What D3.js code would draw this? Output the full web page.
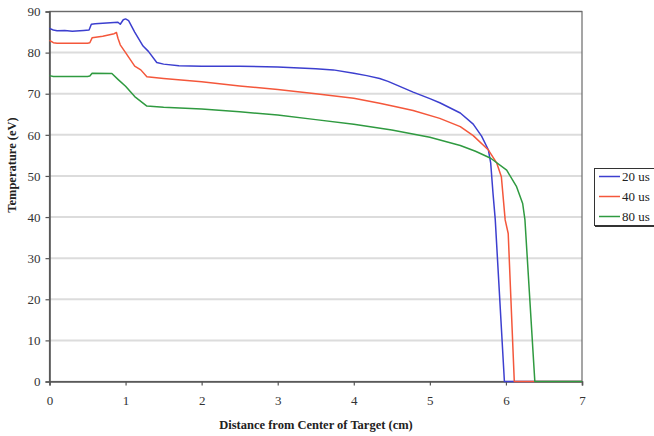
<!DOCTYPE html>
<html>
<head>
<meta charset="utf-8">
<script src="https://cdn.jsdelivr.net/npm/d3@7"></script>
<style>
  body { margin: 0; background: #fff; }
  svg text { font-family: "Liberation Serif", "Times New Roman", serif; fill: #222; }
</style>
</head>
<body>
<svg id="chart" width="654" height="436"></svg>
<script>
// series: [distance cm, temperature eV]
var us20 = [[0,85.9],[0.05,85.5],[0.1,85.3],[0.2,85.4],[0.3,85.2],[0.45,85.4],[0.52,85.5],[0.55,86.9],[0.6,87.0],
  [0.9,87.4],[0.93,86.9],[0.97,88.0],[1.0,88.2],[1.04,87.8],[1.12,85.0],[1.23,81.6],[1.3,80.3],[1.41,77.6],
  [1.5,77.2],[1.7,76.8],[2.0,76.7],[2.5,76.7],[3.0,76.5],[3.5,76.1],[3.73,75.8],[4.0,75.0],[4.17,74.4],
  [4.34,73.7],[4.45,73.0],[4.55,72.2],[4.78,70.4],[5.0,68.8],[5.13,67.8],[5.4,65.3],[5.57,62.6],[5.68,59.7],[5.77,56.3],
  [5.8,53.1],[5.83,45.8],[5.86,39.3],[5.98,0],[7,0]]
var us40 = [[0,83.0],[0.05,82.4],[0.1,82.3],[0.5,82.3],[0.53,82.4],[0.56,83.6],[0.7,84.0],[0.85,84.6],[0.88,84.9],
  [0.9,83.5],[0.93,81.9],[1.0,80.0],[1.12,76.7],[1.2,75.8],[1.28,74.1],[1.5,73.7],[2.0,72.9],[2.5,71.9],
  [3.0,71.0],[3.5,70.0],[4.0,68.9],[4.34,67.7],[4.54,66.9],[4.78,65.9],[5.13,64.0],[5.4,62.0],
  [5.57,59.8],[5.77,56.3],[5.88,53.1],[5.94,49.8],[5.99,39.3],[6.03,36.0],[6.11,0],[7,0]]
var us80 = [[0,74.4],[0.05,74.2],[0.5,74.2],[0.53,74.3],[0.56,75.0],[0.82,74.9],[0.9,73.5],[1.0,71.8],[1.12,69.3],
  [1.28,67.0],[1.5,66.7],[2.0,66.3],[2.5,65.6],[3.0,64.8],[3.5,63.7],[4.0,62.6],[4.5,61.2],[5.0,59.4],
  [5.4,57.4],[5.6,56.0],[5.8,54.3],[6.01,51.4],[6.14,47.4],[6.22,43.3],[6.25,39.3],[6.38,0],[7,0]]

var seriesNames = ['20 us','40 us','80 us']
var seriesData = [us20, us40, us80]
var seriesColors = ['#3c3fcf','#f4573b','#2f9a40']

var xTicks = [0,1,2,3,4,5,6,7]
var yTicks = [0,10,20,30,40,50,60,70,80,90]

var svg = d3.select('#chart')
var plotLeft = 49.5, plotRight = 582, plotTop = 11.5, plotBottom = 381.5

var x = d3.scaleLinear().domain([0,7]).range([plotLeft,plotRight])
var y = d3.scaleLinear().domain([0,90]).range([plotBottom,plotTop])

// gridlines
svg.append('g').selectAll('line')
  .data(yTicks.filter(function(d){return d > 0}))
  .enter().append('line')
  .attr('x1', plotLeft).attr('x2', plotRight)
  .attr('y1', function(d){return y(d)}).attr('y2', function(d){return y(d)})
  .style('stroke','#dcdcdc').style('stroke-width',2)

// plot border
svg.append('rect')
  .attr('x', plotLeft).attr('y', plotTop)
  .attr('width', plotRight-plotLeft).attr('height', plotBottom-plotTop)
  .style('fill','none').style('stroke','#6a6a6a').style('stroke-width',1.2)

var xAxis = svg.append('g')
  .attr('transform','translate(0,' + plotBottom + ')')
  .call(d3.axisBottom(x).tickValues(xTicks).tickSize(4).tickPadding(10).tickFormat(d3.format('d')))
var yAxis = svg.append('g')
  .attr('transform','translate(' + plotLeft + ',0)')
  .call(d3.axisLeft(y).tickValues(yTicks).tickSize(4).tickPadding(5).tickFormat(d3.format('d')))

;[xAxis, yAxis].forEach(function(a){
  a.attr('font-family', null).attr('font-size', null)
  a.select('.domain').style('stroke','#555').style('stroke-width',1.6)
  a.selectAll('.tick line').style('stroke','#555').style('stroke-width',1.2)
  a.selectAll('.tick text').style('font-size','13px').style('fill','#333')
})

// lines
var line = d3.line()
  .x(function(d){return x(d[0])})
  .y(function(d){return y(d[1])})

svg.append('g').selectAll('path')
  .data(seriesData)
  .enter().append('path')
  .attr('d', line)
  .style('fill','none')
  .style('stroke', function(d,i){return seriesColors[i]})
  .style('stroke-width',1.5)
  .style('stroke-linejoin','round')

// axis titles
svg.append('text')
  .attr('x', 316).attr('y', 429)
  .attr('text-anchor','middle')
  .style('font-size','12.5px').style('font-weight','bold')
  .text('Distance from Center of Target (cm)')
svg.append('text')
  .attr('transform','translate(16,165) rotate(-90)')
  .attr('text-anchor','middle')
  .style('font-size','12.5px').style('font-weight','bold')
  .text('Temperature (eV)')

// legend
var legend = svg.append('g')
legend.append('rect')
  .attr('x', 594.5).attr('y', 168.5).attr('width', 70).attr('height', 57)
  .style('fill','#fff').style('stroke','#333').style('stroke-width',1)
legend.append('line')
  .attr('x1', 595).attr('x2', 654).attr('y1', 226).attr('y2', 226)
  .style('stroke','#333').style('stroke-width',2)
var items = legend.selectAll('.item')
  .data(seriesNames)
  .enter().append('g').attr('class','item')
  .attr('transform', function(d,i){return 'translate(0,' + (176.5 + i*20) + ')'})
items.append('line')
  .attr('x1', 599).attr('x2', 620).attr('y1', 0).attr('y2', 0)
  .style('stroke', function(d,i){return seriesColors[i]}).style('stroke-width',1.5)
items.append('text')
  .attr('x', 622).attr('y', 4.5)
  .style('font-size','13px')
  .text(function(d){return d})
</script>
</body>
</html>
